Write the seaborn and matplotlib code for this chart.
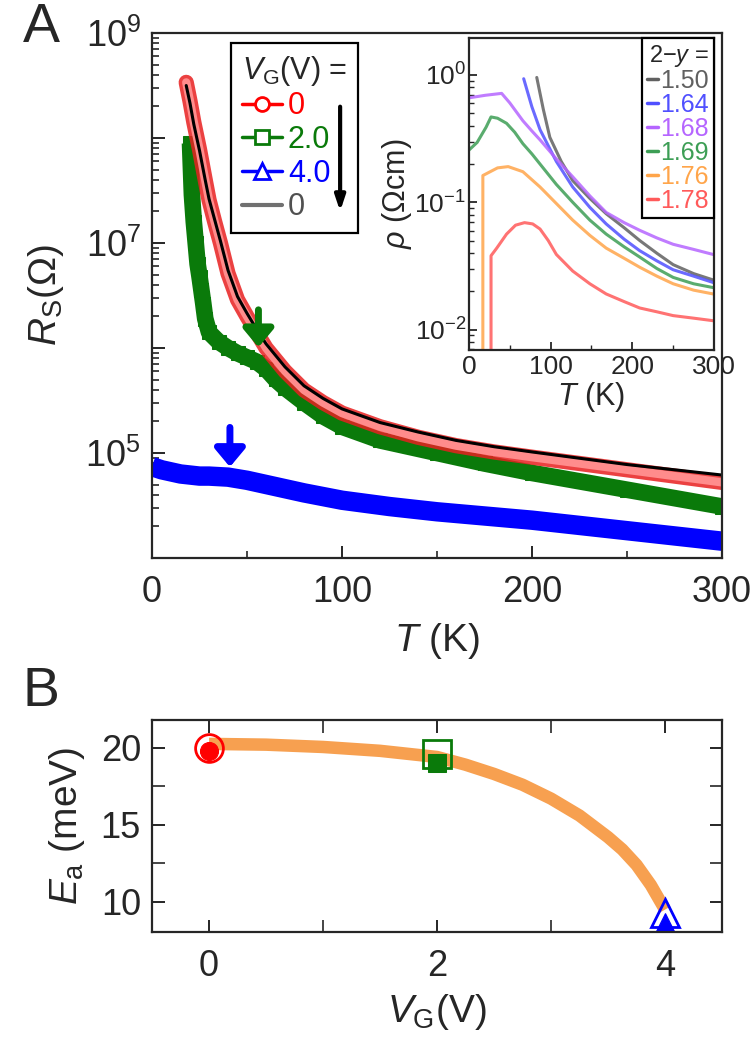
import numpy as np
import pandas as pd
import seaborn as sns
import matplotlib.pyplot as plt
from matplotlib.lines import Line2D
from matplotlib.ticker import FixedLocator, FuncFormatter, LogLocator, NullFormatter, MultipleLocator

# ---- panel A main data: T (K) and log10 Rs (Ohm)
T_vg0 = [18, 20, 22, 25, 28, 30, 33, 36, 40, 45, 50, 55, 60, 70, 80, 90, 100, 120, 140, 160, 180, 200, 225, 250, 275, 300]
logR_vg0 = [8.53, 8.35, 8.15, 7.89, 7.6, 7.41, 7.2, 7.0, 6.71, 6.46, 6.3, 6.15, 6.0, 5.78, 5.6, 5.48, 5.38, 5.25, 5.15, 5.07, 5.01, 4.96, 4.9, 4.84, 4.78, 4.72]
logR_vg0b = [8.5, 8.33, 8.13, 7.88, 7.6, 7.42, 7.22, 7.02, 6.74, 6.49, 6.33, 6.18, 6.04, 5.82, 5.64, 5.52, 5.42, 5.29, 5.2, 5.12, 5.06, 5.01, 4.95, 4.89, 4.84, 4.79]
T_vg2 = [20, 21, 22, 23, 24, 25, 26, 27, 28, 30, 35, 40, 45, 50, 55, 60, 65, 70, 80, 90, 100, 120, 150, 175, 200, 250, 300]
logR_vg2 = [7.95, 7.46, 7.2, 7.0, 6.8, 6.68, 6.55, 6.42, 6.28, 6.15, 6.06, 6.0, 5.95, 5.91, 5.87, 5.8, 5.7, 5.62, 5.48, 5.35, 5.25, 5.12, 5.0, 4.9, 4.81, 4.65, 4.49]
T_vg4 = [0, 5, 10, 15, 20, 25, 30, 40, 50, 60, 80, 100, 125, 150, 175, 200, 225, 250, 275, 300]
logR_vg4 = [4.87, 4.84, 4.82, 4.8, 4.79, 4.78, 4.78, 4.77, 4.74, 4.7, 4.62, 4.55, 4.49, 4.44, 4.4, 4.36, 4.31, 4.26, 4.21, 4.16]
# onset arrows: T, log10 R top, log10 R tip
arrow_T = [56, 41]
arrow_top = [6.39, 5.27]
arrow_tip = [5.98, 4.84]

# ---- inset data: T (K) and log10 rho (Ohm cm)
inset_labels = ["1.50", "1.64", "1.68", "1.69", "1.76", "1.78"]
inset_colors = ["#606060", "#5050ff", "#b565ff", "#3d9e55", "#ffa54a", "#ff5a5a"]
T_150 = [83, 91, 99, 113, 127, 148, 168, 190, 209, 230, 250, 275, 299]
rho_150 = [-0.02, -0.27, -0.49, -0.68, -0.83, -0.97, -1.09, -1.2, -1.3, -1.4, -1.49, -1.56, -1.61]
T_164 = [67, 77, 87, 107, 127, 148, 168, 190, 209, 230, 250, 275, 299]
rho_164 = [-0.03, -0.25, -0.43, -0.68, -0.88, -1.04, -1.17, -1.29, -1.38, -1.46, -1.53, -1.58, -1.63]
T_168 = [0, 20, 40, 50, 66, 77, 87, 107, 127, 148, 168, 190, 209, 230, 250, 275, 299]
rho_168 = [-0.18, -0.16, -0.145, -0.22, -0.36, -0.44, -0.51, -0.66, -0.8, -0.95, -1.08, -1.16, -1.22, -1.28, -1.33, -1.37, -1.41]
T_169 = [0, 10, 21, 27, 35, 46, 56, 66, 77, 87, 107, 127, 148, 168, 190, 209, 230, 250, 275, 299]
rho_169 = [-0.59, -0.53, -0.41, -0.33, -0.34, -0.38, -0.45, -0.54, -0.62, -0.7, -0.86, -1.0, -1.14, -1.25, -1.35, -1.43, -1.52, -1.59, -1.64, -1.67]
T_176 = [17, 17, 23, 35, 48, 66, 87, 107, 127, 148, 168, 190, 209, 230, 250, 275, 299]
rho_176 = [-2.5, -0.79, -0.77, -0.73, -0.72, -0.76, -0.88, -1.01, -1.14, -1.26, -1.36, -1.44, -1.51, -1.58, -1.64, -1.69, -1.72]
T_178 = [27, 27, 34, 46, 57, 68, 78, 87, 97, 107, 127, 148, 168, 190, 209, 230, 250, 275, 299]
rho_178 = [-2.5, -1.42, -1.36, -1.25, -1.18, -1.16, -1.17, -1.21, -1.3, -1.41, -1.54, -1.64, -1.72, -1.78, -1.83, -1.86, -1.89, -1.91, -1.93]

# ---- panel B data
VG = [0, 2, 4]
Ea_open = [20.0, 19.6, 9.3]
Ea_filled = [19.8, 19.0, 8.7]
VG_fit = [0, 0.5, 1, 1.5, 1.75, 2, 2.25, 2.5, 2.75, 3, 3.25, 3.5, 3.625, 3.75, 3.875, 4]
Ea_fit = [20.25, 20.2, 20.05, 19.8, 19.6, 19.4, 18.9, 18.3, 17.6, 16.7, 15.6, 14.2, 13.4, 12.4, 11.1, 9.5]

sns.set_style("ticks")
fam = "Liberation Sans"
plt.rcParams['font.family'] = [fam, 'DejaVu Sans']
plt.rcParams['mathtext.fontset'] = 'custom'
plt.rcParams['mathtext.rm'] = fam
plt.rcParams['mathtext.it'] = fam + ':italic'
plt.rcParams['mathtext.sf'] = fam
plt.rcParams['axes.linewidth'] = 1.6

RED, GREEN, BLUE = "#ff0000", "#0a7a0a", "#0000ff"
FS = 26

fig = plt.figure(figsize=(7.5, 10.52), dpi=100)
ax = fig.add_axes([0.2027, 0.4696, 0.76, 0.499])

def draw(ax, x, y, **kw):
    sns.lineplot(x=x, y=y, ax=ax, estimator=None, sort=False, **kw)

R0 = 10 ** np.array(logR_vg0)
R0b = 10 ** np.array(logR_vg0b)
R2 = 10 ** np.array(logR_vg2)
R4 = 10 ** np.array(logR_vg4)

draw(ax, T_vg4, R4, color=BLUE, lw=14, solid_capstyle="butt")
draw(ax, T_vg2, R2, color=GREEN, lw=12, solid_capstyle="butt")
draw(ax, T_vg2, R2, color=GREEN, lw=1.2, marker="s", markersize=10, markeredgecolor=GREEN, markerfacecolor=GREEN)
draw(ax, T_vg0, R0, color="#e82020", lw=11, alpha=0.85)
draw(ax, T_vg0, R0, color="#ff8c8c", lw=6)
draw(ax, T_vg0, R0b, color="black", lw=2.2)

for t, a, b, c in zip(arrow_T, arrow_top, arrow_tip, [GREEN, BLUE]):
    ax.annotate("", xy=(t, 10 ** b), xytext=(t, 10 ** a),
                arrowprops=dict(arrowstyle="-|>,head_width=0.5,head_length=0.6", lw=5, color=c, mutation_scale=18))

ax.set_yscale("log")
ax.set_xlim(0, 300)
ax.set_ylim(1e4, 1e9)
ax.yaxis.set_major_locator(FixedLocator([1e4, 1e5, 1e6, 1e7, 1e8, 1e9]))
ax.yaxis.set_major_formatter(FuncFormatter(lambda v, p: r"$10^{%d}$" % round(np.log10(v)) if round(np.log10(v)) % 2 == 1 else ""))
ax.yaxis.set_minor_locator(LogLocator(base=10, subs=np.arange(2, 10), numticks=20))
ax.yaxis.set_minor_formatter(NullFormatter())
ax.xaxis.set_major_locator(MultipleLocator(100))
ax.xaxis.set_minor_locator(MultipleLocator(50))
ax.tick_params(which="both", direction="in", labelsize=FS, top=False, right=False)
ax.tick_params(which="major", length=9, width=1.4)
ax.tick_params(which="minor", length=5, width=1.2)
ax.tick_params(axis="x", pad=12)
ax.tick_params(axis="y", pad=8)
ax.set_xlabel(r"$T$ (K)", fontsize=28, labelpad=8)
ax.set_ylabel(r"$R_{\mathrm{S}}(\Omega)$", fontsize=28, labelpad=14)

handles = [Line2D([], [], color=RED, marker="o", mfc="white", mec=RED, ms=10, mew=2, lw=2.5),
           Line2D([], [], color=GREEN, marker="s", mfc="white", mec=GREEN, ms=10, mew=2, lw=2.5),
           Line2D([], [], color=BLUE, marker="^", mfc="white", mec=BLUE, ms=11, mew=2, lw=2.5),
           Line2D([], [], color="#707070", lw=3)]
leg = ax.legend(handles, ["0", "2.0", "4.0", "0"], title=r"$V_{\mathrm{G}}$(V) =", loc="upper left",
                bbox_to_anchor=(0.139, 0.981), fontsize=22, title_fontsize=22, frameon=True, fancybox=False,
                edgecolor="black", framealpha=1, handlelength=1.3, handletextpad=0.2, labelspacing=0.12,
                borderpad=0.35, borderaxespad=0)
leg.get_frame().set_linewidth(1.6)
leg._legend_box.align = "left"
for txt, c in zip(leg.get_texts(), [RED, GREEN, BLUE, "#505050"]):
    txt.set_color(c)
ax.annotate("", xy=(0.33, 0.655), xytext=(0.33, 0.865), xycoords="axes fraction", zorder=10,
            arrowprops=dict(arrowstyle="-|>,head_width=0.3,head_length=0.9", lw=3, color="black"))

# ---- inset
axi = fig.add_axes([0.6253, 0.6673, 0.3267, 0.2966])
inset_T = [T_150, T_164, T_168, T_169, T_176, T_178]
inset_rho = [rho_150, rho_164, rho_168, rho_169, rho_176, rho_178]
for t, r, c in zip(inset_T, inset_rho, inset_colors):
    draw(axi, t, 10 ** np.array(r), color=c, lw=2.2, alpha=0.85)
axi.set_yscale("log")
axi.set_xlim(0, 300)
axi.set_ylim(10 ** -2.16, 10 ** 0.29)
axi.yaxis.set_major_locator(FixedLocator([1e-2, 1e-1, 1e0]))
axi.yaxis.set_major_formatter(FuncFormatter(lambda v, p: r"$10^{%d}$" % round(np.log10(v))))
axi.yaxis.set_minor_locator(LogLocator(base=10, subs=np.arange(2, 10), numticks=20))
axi.yaxis.set_minor_formatter(NullFormatter())
axi.xaxis.set_major_locator(MultipleLocator(100))
axi.xaxis.set_minor_locator(MultipleLocator(50))
axi.tick_params(which="both", direction="in", labelsize=19, top=False, right=False)
axi.tick_params(which="major", length=6, width=1.3)
axi.tick_params(which="minor", length=3.5, width=1)
axi.tick_params(axis="y", pad=2)
axi.set_xlabel(r"$T$ (K)", fontsize=22, labelpad=1)
axi.set_ylabel(r"$\rho$ ($\Omega$cm)", fontsize=22, labelpad=0)
ih = [Line2D([], [], color=c, lw=2.5) for c in inset_colors]
leg2 = axi.legend(ih, inset_labels, title=r"2$-y$ =", loc="upper right", fontsize=18, title_fontsize=17,
                  frameon=True, fancybox=False, edgecolor="black", framealpha=1, handlelength=0.45,
                  handletextpad=0.1, labelspacing=0.0, borderpad=0.2, borderaxespad=0)
leg2.get_frame().set_linewidth(1.6)
leg2._legend_box.align = "right"
for txt, c in zip(leg2.get_texts(), inset_colors):
    txt.set_color(c)

# ---- panel B
axb = fig.add_axes([0.2027, 0.1141, 0.76, 0.2015])
draw(axb, VG_fit, Ea_fit, color="#f7a050", lw=9, solid_capstyle="butt")
mk = ["o", "s", "^"]
cols = [RED, GREEN, BLUE]
for x, yo, yf, m, c in zip(VG, Ea_open, Ea_filled, mk, cols):
    draw(axb, [x], [yo], color=c, lw=0, marker=m, markersize=20, markerfacecolor="none", markeredgecolor=c, markeredgewidth=2)
    draw(axb, [x], [yf], color=c, lw=0, marker=m, markersize=13, markerfacecolor=c, markeredgecolor=c)
axb.set_xlim(-0.5, 4.5)
axb.set_ylim(8.05, 21.8)
axb.xaxis.set_major_locator(MultipleLocator(2))
axb.xaxis.set_minor_locator(MultipleLocator(1))
axb.yaxis.set_major_locator(MultipleLocator(5))
axb.yaxis.set_minor_locator(MultipleLocator(2.5))
axb.tick_params(which="both", direction="in", labelsize=FS, top=True, right=True)
axb.tick_params(which="major", length=9, width=1.4)
axb.tick_params(which="minor", length=9, width=1.2)
axb.tick_params(axis="x", pad=12)
axb.tick_params(axis="y", pad=8)
axb.set_xlabel(r"$V_{\mathrm{G}}$(V)", fontsize=28, labelpad=6)
axb.set_ylabel(r"$E_{\mathrm{a}}$ (meV)", fontsize=28, labelpad=10)

fig.text(0.03, 0.973, "A", fontsize=40, va="center", ha="left")
fig.text(0.03, 0.342, "B", fontsize=40, va="center", ha="left")

fig.savefig("out.png", dpi=100)
